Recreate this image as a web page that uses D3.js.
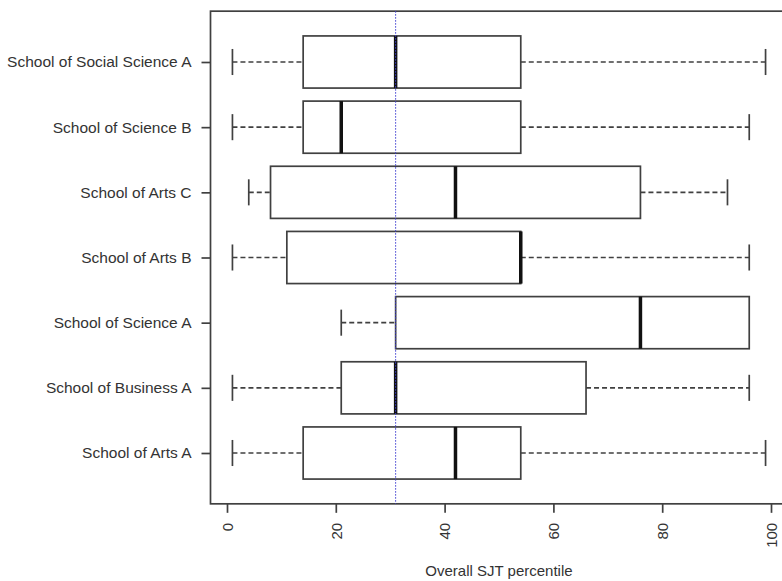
<!DOCTYPE html>
<html><head><meta charset="utf-8">
<script src="https://cdn.jsdelivr.net/npm/d3@7"></script>
<style>body{margin:0;background:#fff}svg{display:block}text{font-family:"Liberation Sans",Arial,sans-serif;fill:#333}</style>
</head><body><svg id="c" width="782" height="581"></svg>
<script>
const categories = ["School of Arts A","School of Business A","School of Science A","School of Arts B","School of Arts C","School of Science B","School of Social Science A"];
const whiskerLow  = [1, 1, 21, 1, 4, 1, 1];
const q1          = [14, 21, 31, 11, 8, 14, 14];
const median      = [42, 31, 76, 54, 42, 21, 31];
const q3          = [54, 66, 96, 54, 76, 54, 54];
const whiskerHigh = [99, 96, 96, 96, 92, 96, 99];
const refLine = 31;
const xTicks = [0, 20, 40, 60, 80, 100];
const xTitle = "Overall SJT percentile";

const svg = d3.select("#c");
const stroke = "#404040";
const sw = 1.7;
const x = d3.scaleLinear().domain([0, 100]).range([227, 771]);
const y = d3.scaleLinear().domain([1, 7]).range([453, 62]);
const bw = 0.4 * (y(1) - y(2));
const xMin = x.invert(210.5), yTop = y(7.78), yBot = y(0.22);

// frame
svg.append("rect").attr("x", x(xMin)).attr("y", yTop).attr("width", 800).attr("height", yBot - yTop)
  .attr("fill", "none").attr("stroke", stroke).attr("stroke-width", sw);

const data = categories.map((c, i) => ({c, i: i + 1, lo: whiskerLow[i], q1: q1[i], med: median[i], q3: q3[i], hi: whiskerHigh[i]}));
const g = svg.append("g");
data.forEach(d => {
  const cy = y(d.i);
  if (d.lo < d.q1) {
    g.append("line").attr("x1", x(d.lo)).attr("x2", x(d.q1)).attr("y1", cy).attr("y2", cy)
      .attr("stroke", stroke).attr("stroke-width", sw).attr("stroke-dasharray", "5,3");
    g.append("line").attr("x1", x(d.lo)).attr("x2", x(d.lo)).attr("y1", cy - bw/2).attr("y2", cy + bw/2)
      .attr("stroke", stroke).attr("stroke-width", sw);
  }
  if (d.hi > d.q3) {
    g.append("line").attr("x1", x(d.q3)).attr("x2", x(d.hi)).attr("y1", cy).attr("y2", cy)
      .attr("stroke", stroke).attr("stroke-width", sw).attr("stroke-dasharray", "5,3");
    g.append("line").attr("x1", x(d.hi)).attr("x2", x(d.hi)).attr("y1", cy - bw/2).attr("y2", cy + bw/2)
      .attr("stroke", stroke).attr("stroke-width", sw);
  }
  g.append("rect").attr("x", x(d.q1)).attr("y", cy - bw).attr("width", x(d.q3) - x(d.q1)).attr("height", 2 * bw)
    .attr("fill", "#fff").attr("stroke", stroke).attr("stroke-width", sw);
  g.append("line").attr("x1", x(d.med)).attr("x2", x(d.med)).attr("y1", cy - bw).attr("y2", cy + bw)
    .attr("stroke", "#111").attr("stroke-width", 3.5);
});

// reference line
svg.append("line").attr("x1", x(refLine)).attr("x2", x(refLine)).attr("y1", yTop).attr("y2", yBot)
  .attr("stroke", "#3c3cd0").attr("stroke-width", 1).attr("stroke-dasharray", "1.5,1.5");

// y axis
const yAxis = d3.axisLeft(y).tickValues(data.map(d => d.i)).tickFormat(i => categories[i - 1]).tickSize(9).tickPadding(10);
const ya = svg.append("g").attr("transform", `translate(${x(xMin)},0)`).call(yAxis);
ya.select(".domain").remove();
ya.selectAll("line").attr("stroke", stroke).attr("stroke-width", sw);
ya.selectAll("text").attr("font-size", 15.5).style("fill", "#333");

// x axis
const xAxis = d3.axisBottom(x).tickValues(xTicks).tickSize(9).tickPadding(0);
const xa = svg.append("g").attr("transform", `translate(0,${yBot})`).call(xAxis);
xa.select(".domain").remove();
xa.selectAll("line").attr("stroke", stroke).attr("stroke-width", sw);
xa.selectAll("text").attr("font-size", 15).style("fill", "#333")
  .attr("transform", "translate(0,19) rotate(-90)").attr("text-anchor", "end").attr("x", 0).attr("y", 0).attr("dy", "0.35em");

svg.append("text").attr("x", 499).attr("y", 576).attr("text-anchor", "middle").attr("font-size", 15).text(xTitle);
</script></body></html>
